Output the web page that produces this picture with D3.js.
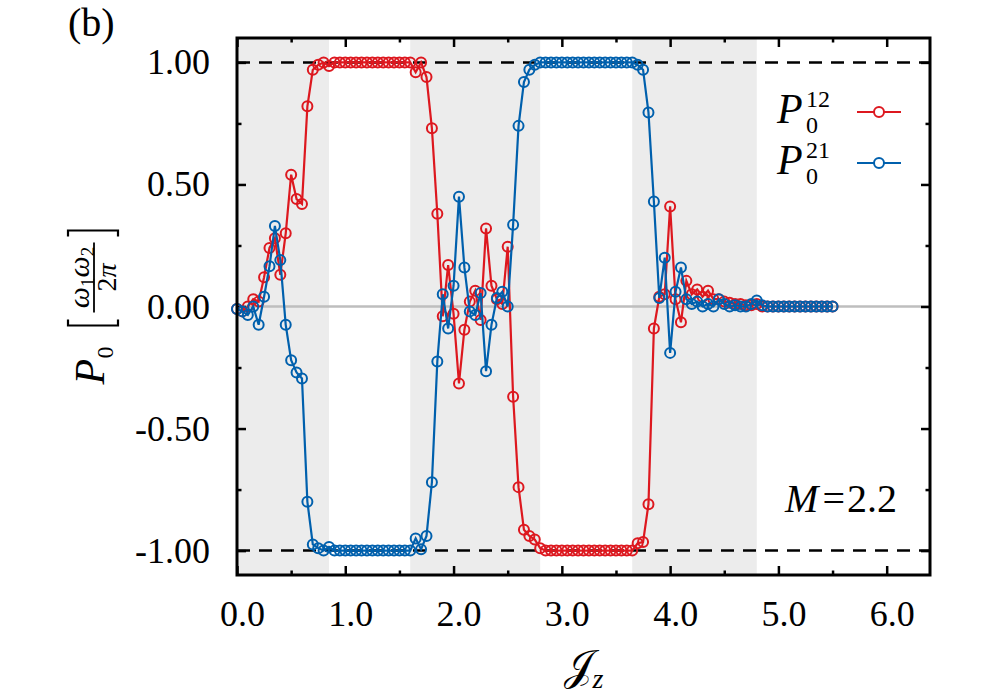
<!DOCTYPE html>
<html>
<head>
<meta charset="utf-8">
<script src="https://cdn.jsdelivr.net/npm/d3@7"></script>
<style>
  body { margin: 0; background: #fff; }
  svg { display: block; }
</style>
</head>
<body>
<script>
// sampled coupling values J_z
var jz = [
  0.00, 0.05, 0.10, 0.15, 0.20, 0.25, 0.30, 0.35, 0.40, 0.45,
  0.50, 0.55, 0.60, 0.65, 0.70, 0.75, 0.80, 0.85, 0.90, 0.95,
  1.00, 1.05, 1.10, 1.15, 1.20, 1.25, 1.30, 1.35, 1.40, 1.45,
  1.50, 1.55, 1.60, 1.65, 1.70, 1.75, 1.80, 1.85, 1.90, 1.95,
  2.00, 2.05, 2.10, 2.15, 2.20, 2.25, 2.30, 2.35, 2.40, 2.45,
  2.50, 2.55, 2.60, 2.65, 2.70, 2.75, 2.80, 2.85, 2.90, 2.95,
  3.00, 3.05, 3.10, 3.15, 3.20, 3.25, 3.30, 3.35, 3.40, 3.45,
  3.50, 3.55, 3.60, 3.65, 3.70, 3.75, 3.80, 3.85, 3.90, 3.95,
  4.00, 4.05, 4.10, 4.15, 4.20, 4.25, 4.30, 4.35, 4.40, 4.45,
  4.50, 4.55, 4.60, 4.65, 4.70, 4.75, 4.80, 4.85, 4.90, 4.95,
  5.00, 5.05, 5.10, 5.15, 5.20, 5.25, 5.30, 5.35, 5.40, 5.45,
  5.50
];

// P_0^{12} (red)
var p12 = [
  -0.01, -0.02, 0.00, 0.03, 0.02, 0.12, 0.24, 0.28, 0.13, 0.30,
  0.54, 0.44, 0.42, 0.82, 0.97, 0.99, 1.00, 0.985, 1.00, 1.00,
  1.00, 1.00, 1.00, 1.00, 1.00, 1.00, 1.00, 1.00, 1.00, 1.00,
  1.00, 1.00, 1.00, 0.96, 1.00, 0.94, 0.73, 0.38, -0.04, 0.17,
  -0.03, -0.315, -0.095, 0.02, 0.065, -0.055, 0.32, 0.085, 0.03, 0.01,
  0.245, -0.37, -0.74, -0.915, -0.94, -0.955, -0.99, -1.00, -1.00, -1.00,
  -1.00, -1.00, -1.00, -1.00, -1.00, -1.00, -1.00, -1.00, -1.00, -1.00,
  -1.00, -1.00, -1.00, -1.00, -0.97, -0.965, -0.81, -0.09, 0.04, 0.05,
  0.41, 0.03, -0.065, 0.105, 0.05, 0.07, 0.04, 0.065, 0.03, 0.03,
  0.02, 0.015, 0.01, 0.01, 0.005, 0.005, 0.01, 0.00, 0.00, 0.00,
  0.00, 0.00, 0.00, 0.00, 0.00, 0.00, 0.00, 0.00, 0.00, 0.00,
  0.00
];

// P_0^{21} (blue)
var p21 = [
  -0.01, -0.02, -0.035, 0.00, -0.075, 0.04, 0.165, 0.33, 0.19, -0.075,
  -0.22, -0.27, -0.295, -0.80, -0.975, -0.99, -1.00, -0.985, -1.00, -1.00,
  -1.00, -1.00, -1.00, -1.00, -1.00, -1.00, -1.00, -1.00, -1.00, -1.00,
  -1.00, -1.00, -1.00, -0.95, -0.995, -0.94, -0.72, -0.225, 0.05, -0.09,
  0.085, 0.45, 0.16, -0.02, -0.035, 0.055, -0.265, -0.075, 0.035, 0.06,
  0.00, 0.335, 0.74, 0.92, 0.97, 0.99, 1.00, 1.00, 1.00, 1.00,
  1.00, 1.00, 1.00, 1.00, 1.00, 1.00, 1.00, 1.00, 1.00, 1.00,
  1.00, 1.00, 1.00, 1.00, 0.99, 0.97, 0.795, 0.43, 0.035, 0.20,
  -0.19, 0.06, 0.16, 0.03, 0.01, 0.02, 0.00, 0.01, 0.00, 0.03,
  0.01, 0.00, 0.005, 0.00, 0.00, 0.01, 0.025, 0.005, 0.00, 0.00,
  0.00, 0.00, 0.00, 0.00, 0.00, 0.00, 0.00, 0.00, 0.00, 0.00,
  0.00
];

// shaded J_z intervals
var bands = [[0.00, 0.85], [1.60, 2.80], [3.65, 4.80]];

var xMajor = [0, 1, 2, 3, 4, 5, 6];
var xMinor = [0.5, 1.5, 2.5, 3.5, 4.5, 5.5];
var yMajor = [-1, -0.5, 0, 0.5, 1];
var yMinor = [-0.75, -0.25, 0.25, 0.75];

var RED = "#dd181f", BLUE = "#0060ad";
var SERIF = "'Liberation Serif', 'DejaVu Serif', serif";

var W = 1000, H = 700;
var margin = {top: 38, right: 70, bottom: 125, left: 237};

var svg = d3.select("body").append("svg")
    .attr("width", W).attr("height", H);

var x = d3.scaleLinear().domain([0, 6.4]).range([margin.left, W - margin.right]);
var y = d3.scaleLinear().domain([-1.1, 1.1]).range([H - margin.bottom, margin.top]);

var x0 = x.range()[0], x1 = x.range()[1];
var yb = y.range()[0], yt = y.range()[1];

// shaded bands
svg.append("g").selectAll("rect")
    .data(bands)
    .enter().append("rect")
    .attr("x", function(d) { return x(d[0]); })
    .attr("width", function(d) { return x(d[1]) - x(d[0]); })
    .attr("y", yt)
    .attr("height", yb - yt)
    .attr("fill", "#ececec");

// zero line
svg.append("line")
    .attr("x1", x0).attr("x2", x1)
    .attr("y1", y(0)).attr("y2", y(0))
    .attr("stroke", "#bebebe").attr("stroke-width", 2.5);

// dashed lines at +/-1
svg.append("g").selectAll("line")
    .data([1, -1])
    .enter().append("line")
    .attr("x1", x0).attr("x2", x1)
    .attr("y1", function(d) { return y(d); })
    .attr("y2", function(d) { return y(d); })
    .attr("stroke", "#000").attr("stroke-width", 2.5)
    .attr("stroke-dasharray", "13,9");

// axes (inward ticks)
function styleAxis(g) {
  g.attr("font-family", null);
  g.select(".domain").remove();
  g.selectAll(".tick line").attr("stroke", "#000").attr("stroke-width", 2.5);
  g.selectAll("text").style("font-family", SERIF).attr("font-size", 36).attr("fill", "#000");
}

svg.append("g")
    .attr("transform", "translate(0," + yb + ")")
    .call(d3.axisBottom(x).tickValues(xMajor).tickSize(-9).tickPadding(25)
        .tickFormat(function(d) { return d.toFixed(1); }))
    .call(styleAxis)
    .selectAll("text").attr("dx", 5);
svg.append("g")
    .attr("transform", "translate(0," + yb + ")")
    .call(d3.axisBottom(x).tickValues(xMinor).tickSize(-4.5).tickFormat(""))
    .call(styleAxis);
svg.append("g")
    .attr("transform", "translate(0," + yt + ")")
    .call(d3.axisTop(x).tickValues(xMajor).tickSize(-9).tickFormat(""))
    .call(styleAxis);
svg.append("g")
    .attr("transform", "translate(0," + yt + ")")
    .call(d3.axisTop(x).tickValues(xMinor).tickSize(-4.5).tickFormat(""))
    .call(styleAxis);

svg.append("g")
    .attr("transform", "translate(" + x0 + ",0)")
    .call(d3.axisLeft(y).tickValues(yMajor).tickSize(-9).tickPadding(27)
        .tickFormat(function(d) { return d.toFixed(2); }))
    .call(styleAxis);
svg.append("g")
    .attr("transform", "translate(" + x0 + ",0)")
    .call(d3.axisLeft(y).tickValues(yMinor).tickSize(-4.5).tickFormat(""))
    .call(styleAxis);
svg.append("g")
    .attr("transform", "translate(" + x1 + ",0)")
    .call(d3.axisRight(y).tickValues(yMajor).tickSize(-9).tickFormat(""))
    .call(styleAxis);
svg.append("g")
    .attr("transform", "translate(" + x1 + ",0)")
    .call(d3.axisRight(y).tickValues(yMinor).tickSize(-4.5).tickFormat(""))
    .call(styleAxis);

// data series
var series = [
  {name: "12", values: p12, color: RED},
  {name: "21", values: p21, color: BLUE}
];

var line = d3.line()
    .x(function(d) { return x(d[0]); })
    .y(function(d) { return y(d[1]); });

series.forEach(function(s) {
  var pts = jz.map(function(v, i) { return [v, s.values[i]]; });
  svg.append("path")
      .datum(pts)
      .attr("d", line)
      .attr("fill", "none")
      .attr("stroke", s.color)
      .attr("stroke-width", 2.2);
  svg.append("g").selectAll("circle")
      .data(pts)
      .enter().append("circle")
      .attr("cx", function(d) { return x(d[0]); })
      .attr("cy", function(d) { return y(d[1]); })
      .attr("r", 5)
      .attr("fill", "none")
      .attr("stroke", s.color)
      .attr("stroke-width", 2);
});

// frame
svg.append("rect")
    .attr("x", x0).attr("y", yt)
    .attr("width", x1 - x0).attr("height", yb - yt)
    .attr("fill", "none").attr("stroke", "#000").attr("stroke-width", 3);

// legend
series.forEach(function(s, i) {
  var by = 123 + i * 51;
  var t = svg.append("text").style("font-family", SERIF).attr("fill", "#000");
  t.append("tspan").attr("x", 777).attr("y", by)
      .attr("font-size", 42).attr("font-style", "italic").text("P");
  t.append("tspan").attr("x", 806).attr("y", by - 16)
      .attr("font-size", 24).text(s.name);
  t.append("tspan").attr("x", 806).attr("y", by + 10)
      .attr("font-size", 24).text("0");
  svg.append("line")
      .attr("x1", 857).attr("x2", 901)
      .attr("y1", by - 11).attr("y2", by - 11)
      .attr("stroke", s.color).attr("stroke-width", 2.2);
  svg.append("circle")
      .attr("cx", 879).attr("cy", by - 11).attr("r", 5)
      .attr("fill", "#fff").attr("stroke", s.color).attr("stroke-width", 2);
});

// M = 2.2
var mt = svg.append("text")
    .attr("x", 897).attr("y", 512)
    .attr("text-anchor", "end")
    .style("font-family", SERIF).attr("font-size", 40).attr("fill", "#000");
mt.append("tspan").attr("font-style", "italic").text("M");
mt.append("tspan").attr("dx", 4).text("=");
mt.append("tspan").attr("dx", 2).text("2.2");

// panel label
svg.append("text")
    .attr("x", 68).attr("y", 36)
    .style("font-family", SERIF).attr("font-size", 40).attr("fill", "#000")
    .text("(b)");

// x axis title
var xt = svg.append("text")
    .attr("x", (x0 + x1) / 2).attr("y", 680)
    .attr("text-anchor", "middle")
    .style("font-family", SERIF).attr("fill", "#000");
xt.append("tspan").attr("font-size", 42).style("font-family", "'DejaVu Serif', serif")
    .text("\uD835\uDCA5");
xt.append("tspan").attr("font-size", 28).attr("font-style", "italic").attr("dy", 8).text("z");

// y axis title: P_0 [ w1 w2 / 2 pi ]
var yl = svg.append("g")
    .attr("transform", "translate(104," + (y(0) - 14) + ") rotate(-90)")
    .style("font-family", SERIF).attr("fill", "#000");
yl.append("text").attr("x", -92).attr("y", 0)
    .attr("font-size", 42).attr("font-style", "italic").text("P");
yl.append("text").attr("x", -66).attr("y", 9)
    .attr("font-size", 24).text("0");
yl.append("path")
    .attr("d", "M-27,-36H-33V14H-27")
    .attr("fill", "none").attr("stroke", "#000").attr("stroke-width", 2.2);
yl.append("path")
    .attr("d", "M56,-36H62V14H56")
    .attr("fill", "none").attr("stroke", "#000").attr("stroke-width", 2.2);
yl.append("line")
    .attr("x1", -20).attr("x2", 50).attr("y1", -10).attr("y2", -10)
    .attr("stroke", "#000").attr("stroke-width", 1.8);
var num = yl.append("text").attr("x", 15).attr("y", -15)
    .attr("text-anchor", "middle");
num.append("tspan").attr("font-size", 30).attr("font-style", "italic").text("\u03C9");
num.append("tspan").attr("font-size", 19).attr("dy", 5).text("1");
num.append("tspan").attr("font-size", 30).attr("font-style", "italic").attr("dy", -5).text("\u03C9");
num.append("tspan").attr("font-size", 19).attr("dy", 5).text("2");
var den = yl.append("text").attr("x", 15).attr("y", 12)
    .attr("text-anchor", "middle").attr("font-size", 28);
den.append("tspan").text("2");
den.append("tspan").attr("font-style", "italic").text("\u03C0");
</script>
</body>
</html>
